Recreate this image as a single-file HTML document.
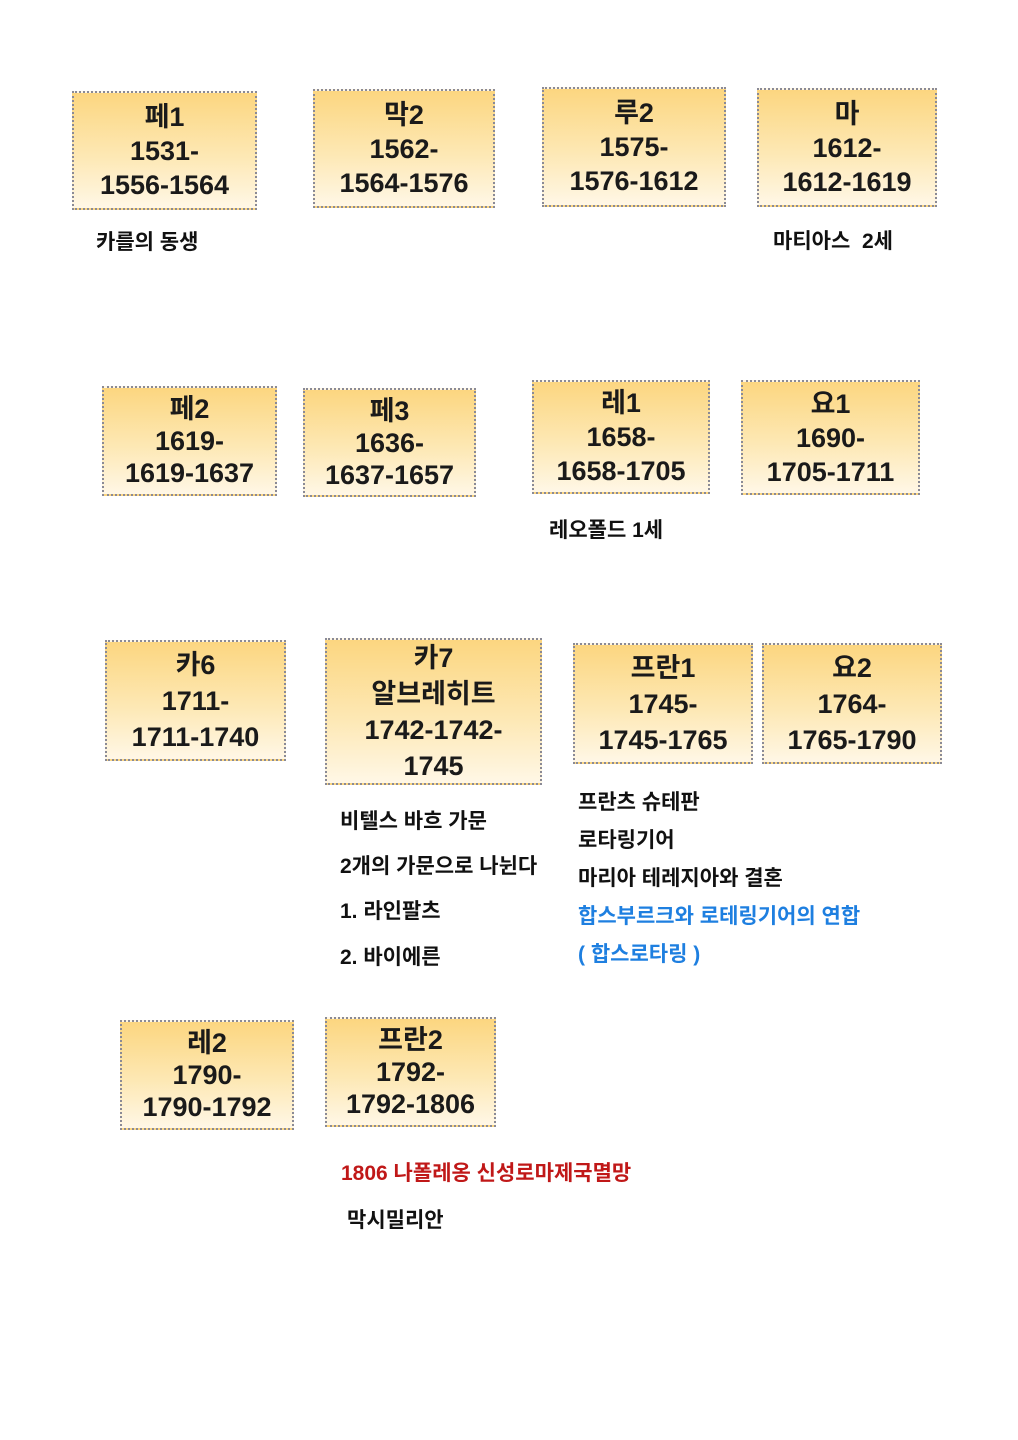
<!DOCTYPE html>
<html><head><meta charset="utf-8"><style>
body{margin:0;background:#fff;}
#p{position:relative;width:1018px;height:1440px;overflow:hidden;font-family:"Liberation Sans","Noto Sans CJK KR",sans-serif;}
.b{position:absolute;box-sizing:border-box;border:2px dotted #8a8a96;background:linear-gradient(#fcd680,#fde8b4 55%,#fff7e6);display:flex;flex-direction:column;align-items:center;justify-content:center;font-weight:bold;font-size:27px;color:#1a1a1a;line-height:34px;text-align:center;}
.t{position:absolute;font-size:21px;font-weight:bold;color:#111;white-space:nowrap;line-height:24px;}
.bl{color:#1e7fe0}.rd{color:#c01818}
</style></head><body><div id="p">
<div class="b" style="left:72px;top:91px;width:185px;height:119px"><div>페1</div><div>1531-</div><div>1556-1564</div></div>
<div class="b" style="left:313px;top:89px;width:182px;height:119px"><div>막2</div><div>1562-</div><div>1564-1576</div></div>
<div class="b" style="left:542px;top:87px;width:184px;height:120px"><div>루2</div><div>1575-</div><div>1576-1612</div></div>
<div class="b" style="left:757px;top:88px;width:180px;height:119px"><div>마</div><div>1612-</div><div>1612-1619</div></div>
<div class="t" style="left:96px;top:231px">카를의 동생</div>
<div class="t" style="left:773px;top:230px">마티아스&nbsp; 2세</div>

<div class="b" style="left:102px;top:386px;width:175px;height:110px;line-height:32px"><div>페2</div><div>1619-</div><div>1619-1637</div></div>
<div class="b" style="left:303px;top:388px;width:173px;height:109px;line-height:32px"><div>페3</div><div>1636-</div><div>1637-1657</div></div>
<div class="b" style="left:532px;top:380px;width:178px;height:114px"><div>레1</div><div>1658-</div><div>1658-1705</div></div>
<div class="b" style="left:741px;top:380px;width:179px;height:115px"><div>요1</div><div>1690-</div><div>1705-1711</div></div>
<div class="t" style="left:549px;top:519px">레오폴드 1세</div>

<div class="b" style="left:105px;top:640px;width:181px;height:121px;line-height:36px"><div>카6</div><div>1711-</div><div>1711-1740</div></div>
<div class="b" style="left:325px;top:638px;width:217px;height:147px;line-height:36px"><div>카7</div><div>알브레히트</div><div>1742-1742-</div><div>1745</div></div>
<div class="b" style="left:573px;top:643px;width:180px;height:121px;line-height:36px"><div>프란1</div><div>1745-</div><div>1745-1765</div></div>
<div class="b" style="left:762px;top:643px;width:180px;height:121px;line-height:36px"><div>요2</div><div>1764-</div><div>1765-1790</div></div>
<div class="t" style="left:340px;top:810px">비텔스 바흐 가문</div>
<div class="t" style="left:340px;top:855px">2개의 가문으로 나뉜다</div>
<div class="t" style="left:340px;top:900px">1. 라인팔츠</div>
<div class="t" style="left:340px;top:946px">2. 바이에른</div>
<div class="t" style="left:578px;top:791px">프란츠 슈테판</div>
<div class="t" style="left:578px;top:829px">로타링기어</div>
<div class="t" style="left:578px;top:867px">마리아 테레지아와 결혼</div>
<div class="t bl" style="left:578px;top:905px">합스부르크와 로테링기어의 연합</div>
<div class="t bl" style="left:578px;top:943px">( 합스로타링 )</div>

<div class="b" style="left:120px;top:1020px;width:174px;height:110px;line-height:32px"><div>레2</div><div>1790-</div><div>1790-1792</div></div>
<div class="b" style="left:325px;top:1017px;width:171px;height:110px;line-height:32px"><div>프란2</div><div>1792-</div><div>1792-1806</div></div>
<div class="t rd" style="left:341px;top:1162px">1806 나폴레옹 신성로마제국멸망</div>
<div class="t" style="left:347px;top:1209px">막시밀리안</div>
</div></body></html>
